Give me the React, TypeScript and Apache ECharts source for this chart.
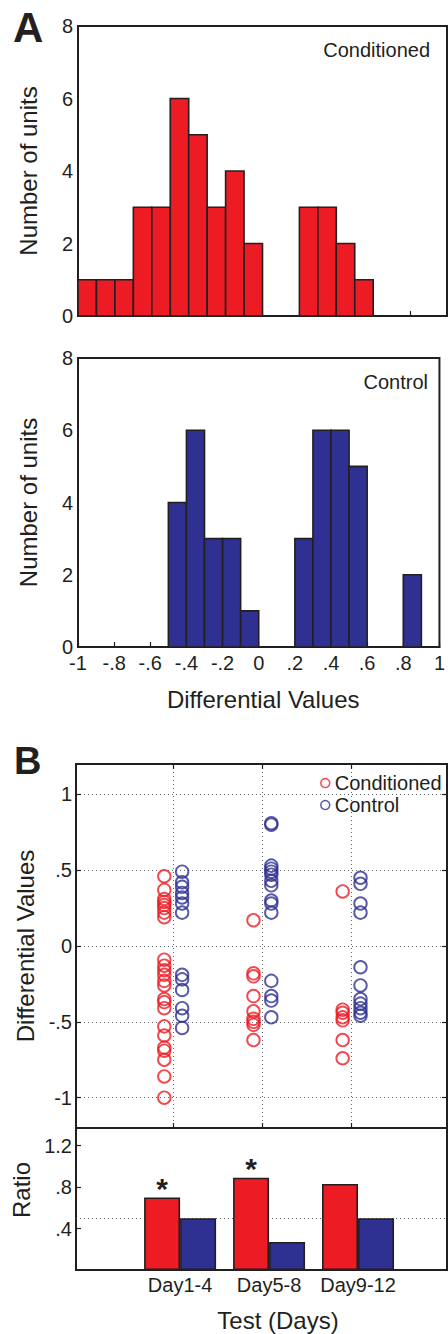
import React, { useEffect, useRef } from 'react';
import * as echarts from 'echarts';

// ---------- Panel A: histograms ----------
const binWidth = 0.1;
const binStarts = [-1, -0.9, -0.8, -0.7, -0.6, -0.5, -0.4, -0.3, -0.2, -0.1, 0, 0.1, 0.2, 0.3, 0.4, 0.5, 0.6, 0.7, 0.8, 0.9];
const conditionedCounts = [1, 1, 1, 3, 3, 6, 5, 3, 4, 2, 0, 0, 3, 3, 2, 1, 0, 0, 0, 0];
const controlCounts = [0, 0, 0, 0, 0, 4, 6, 3, 3, 1, 0, 0, 3, 6, 6, 5, 0, 0, 2, 0];

// ---------- Panel B: scatter by test day ----------
const dayLabels = ['Day1-4', 'Day5-8', 'Day9-12'];
const dayPositions = [1, 2, 3];
const conditionedByDay = [
  [0.46, 0.37, 0.31, 0.29, 0.27, 0.25, 0.22, 0.19,
    -0.09, -0.13, -0.16, -0.19, -0.23, -0.26, -0.35, -0.37, -0.41, -0.53, -0.59, -0.67, -0.69, -0.75, -0.86, -1.0],
  [0.17, -0.18, -0.2, -0.33, -0.43, -0.48, -0.5, -0.52, -0.62],
  [0.36, -0.42, -0.44, -0.47, -0.49, -0.62, -0.74],
];
const controlByDay = [
  [0.49, 0.42, 0.39, 0.35, 0.32, 0.28, 0.22, -0.19, -0.22, -0.29, -0.41, -0.46, -0.54],
  [0.81, 0.8, 0.53, 0.51, 0.49, 0.47, 0.43, 0.4, 0.3, 0.28, 0.22, -0.23, -0.33, -0.36, -0.47],
  [0.45, 0.41, 0.28, 0.22, -0.14, -0.26, -0.35, -0.38, -0.41, -0.44, -0.46],
];
const scatterYTicks = [-1, -0.5, 0, 0.5, 1];

// ---------- Panel B: ratio ----------
const conditionedRatio = [0.7, 0.89, 0.83];
const controlRatio = [0.5, 0.27, 0.5];
const significant = [true, true, false];
const ratioReference = 0.5;
const ratioYTicks = [0.4, 0.8, 1.2];

const RED = '#ED1C24';
const BLUE = '#2E3192';
const INK = '#231F20';
const FONT = 'Liberation Sans';
const DOT = '#666';

const fmt = (v: number) => {
  const r = Math.round(v * 100) / 100;
  if (Number.isInteger(r)) return String(r);
  return String(r).replace('0.', '.');
};

const histSeries = (counts: number[], color: string, idx: number) => ({
  type: 'custom',
  xAxisIndex: idx,
  yAxisIndex: idx,
  encode: { x: [0, 1], y: 2 },
  data: binStarts.map((s, i) => [s, s + binWidth, counts[i]]),
  renderItem: (params: any, api: any) => {
    const count = api.value(2);
    if (!count) return null;
    const p1 = api.coord([api.value(0), count]);
    const p2 = api.coord([api.value(1), 0]);
    return {
      type: 'rect',
      shape: { x: p1[0], y: p1[1], width: p2[0] - p1[0], height: p2[1] - p1[1] },
      style: { fill: color, stroke: INK, lineWidth: 1.6 },
    };
  },
});

export default function App() {
  const ref = useRef<HTMLDivElement>(null);
  useEffect(() => {
    document.body.style.margin = '0';
    const chart = echarts.init(ref.current!, null, { renderer: 'svg' });
    const axisText = { color: INK, fontFamily: FONT, fontSize: 20 };
    const nameText = { color: INK, fontFamily: FONT, fontSize: 24 };
    const axisLine = { show: true, onZero: false, lineStyle: { color: INK, width: 2 } };
    const noLine = { show: false, onZero: false };
    const dotted = { show: true, lineStyle: { color: DOT, width: 1, type: [1, 3] } };

    const option: any = {
      animation: false,
      backgroundColor: '#fff',
      textStyle: { fontFamily: FONT },
      grid: [
        { left: 78, top: 26, width: 369, height: 290 },
        { left: 78, top: 358, width: 369, height: 289 },
        { left: 76, top: 764, width: 371, height: 364 },
        { left: 76, top: 1128, width: 371, height: 142 },
      ].map((g) => ({ ...g, show: true, borderColor: INK, borderWidth: 2, backgroundColor: 'transparent' })),
      legend: {
        orient: 'vertical',
        left: 320,
        top: 773,
        padding: 0,
        itemWidth: 9,
        itemHeight: 9,
        itemGap: 2,
        textStyle: { color: INK, fontFamily: FONT, fontSize: 20, lineHeight: 20 },
        data: [
          { name: 'Conditioned', icon: 'circle', itemStyle: { color: 'rgba(0,0,0,0)', borderColor: RED, borderWidth: 1.5 } },
          { name: 'Control', icon: 'circle', itemStyle: { color: 'rgba(0,0,0,0)', borderColor: BLUE, borderWidth: 1.5 } },
        ],
      },
      xAxis: [
        {
          type: 'value', gridIndex: 0, min: -1, max: 1, interval: 0.2,
          axisLine, axisTick: { show: true, inside: true, length: 5, lineStyle: { color: INK, width: 1.2 } },
          axisLabel: { show: false }, splitLine: { show: false },
        },
        {
          type: 'value', gridIndex: 1, min: -1, max: 1, interval: 0.2,
          axisLine, axisTick: { show: true, inside: true, length: 5, lineStyle: { color: INK, width: 1.2 } },
          axisLabel: { ...axisText, margin: 6, formatter: fmt, showMaxLabel: true, showMinLabel: true },
          splitLine: { show: false },
          name: 'Differential Values', nameLocation: 'middle', nameGap: 40,
          nameTextStyle: { ...nameText, padding: [0, 0, 0, 9] },
        },
        {
          type: 'value', gridIndex: 2, min: -0.09, max: 4.07,
          axisLine,
          axisTick: { show: true, inside: true, length: 5, customValues: dayPositions, lineStyle: { color: INK, width: 1.2 } },
          axisLabel: { show: false, customValues: dayPositions },
          splitLine: dotted,
        },
        {
          type: 'value', gridIndex: 2, min: -0.09, max: 4.07, position: 'top',
          axisLine: noLine,
          axisTick: { show: true, inside: true, length: 5, customValues: dayPositions, lineStyle: { color: INK, width: 1.2 } },
          axisLabel: { show: false, customValues: dayPositions },
          splitLine: { show: false },
        },
        {
          type: 'value', gridIndex: 3, min: -0.17, max: 4.0,
          axisLine, axisTick: { show: false, customValues: dayPositions },
          axisLabel: { ...axisText, margin: 5, customValues: dayPositions, formatter: (v: number) => dayLabels[Math.round(v) - 1] ?? '' },
          splitLine: { show: false },
          name: 'Test (Days)', nameLocation: 'middle', nameGap: 38,
          nameTextStyle: { ...nameText, padding: [0, 0, 0, 33] },
        },
      ],
      yAxis: [
        {
          type: 'value', gridIndex: 0, min: 0, max: 8, interval: 2,
          axisLine, axisTick: { show: false },
          axisLabel: { ...axisText, margin: 5 }, splitLine: { show: false },
          name: 'Number of units', nameLocation: 'middle', nameGap: 38, nameRotate: 90, nameTextStyle: nameText,
        },
        {
          type: 'value', gridIndex: 1, min: 0, max: 8, interval: 2,
          axisLine, axisTick: { show: false },
          axisLabel: { ...axisText, margin: 5 }, splitLine: { show: false },
          name: 'Number of units', nameLocation: 'middle', nameGap: 38, nameRotate: 90, nameTextStyle: nameText,
        },
        {
          type: 'value', gridIndex: 2, min: -1.2, max: 1.2,
          axisLine,
          axisTick: { show: true, inside: true, length: 5, customValues: scatterYTicks, lineStyle: { color: INK, width: 1.2 } },
          axisLabel: { ...axisText, margin: 4, customValues: scatterYTicks, formatter: fmt },
          splitLine: dotted,
          name: 'Differential Values', nameLocation: 'middle', nameGap: 37, nameRotate: 90, nameTextStyle: nameText,
        },
        {
          type: 'value', gridIndex: 2, min: -1.2, max: 1.2, position: 'right',
          axisLine: noLine,
          axisTick: { show: true, inside: true, length: 5, customValues: scatterYTicks, lineStyle: { color: INK, width: 1.2 } },
          axisLabel: { show: false, customValues: scatterYTicks },
          splitLine: { show: false },
        },
        {
          type: 'value', gridIndex: 3, min: 0, max: 1.37,
          axisLine,
          axisTick: { show: true, inside: true, length: 5, customValues: ratioYTicks, lineStyle: { color: INK, width: 1.2 } },
          axisLabel: { ...axisText, margin: 4, customValues: ratioYTicks, formatter: fmt },
          splitLine: { show: false },
          name: 'Ratio', nameLocation: 'middle', nameGap: 37, nameRotate: 90,
          nameTextStyle: { ...nameText, padding: [0, 0, 0, 18] },
        },
      ],
      series: [
        histSeries(conditionedCounts, RED, 0),
        histSeries(controlCounts, BLUE, 1),
        {
          type: 'scatter', name: 'Conditioned', xAxisIndex: 2, yAxisIndex: 2,
          symbol: 'circle', symbolSize: 12.5,
          itemStyle: { color: 'rgba(0,0,0,0)', borderColor: RED, borderWidth: 1.9 },
          data: conditionedByDay.flatMap((vals, d) => vals.map((v) => [dayPositions[d] - 0.1, v])),
        },
        {
          type: 'scatter', name: 'Control', xAxisIndex: 2, yAxisIndex: 2,
          symbol: 'circle', symbolSize: 12.5,
          itemStyle: { color: 'rgba(0,0,0,0)', borderColor: BLUE, borderWidth: 1.9 },
          data: controlByDay.flatMap((vals, d) => vals.map((v) => [dayPositions[d] + 0.1, v])),
        },
        {
          type: 'bar', name: 'Conditioned ratio', xAxisIndex: 4, yAxisIndex: 4,
          barWidth: 36, barGap: '0%', z: 3,
          itemStyle: { color: RED, borderColor: INK, borderWidth: 1.6 },
          label: {
            show: true, position: 'top', distance: -6,
            fontSize: 30, fontWeight: 'bold', color: INK, fontFamily: FONT,
            formatter: (p: any) => (significant[p.dataIndex] ? '*' : ''),
          },
          data: conditionedRatio.map((v, i) => [dayPositions[i], v]),
          markLine: {
            silent: true, symbol: ['none', 'none'], z: 1,
            label: { show: false },
            lineStyle: { color: DOT, width: 1, type: [1, 3] },
            data: [{ yAxis: ratioReference }],
          },
        },
        {
          type: 'bar', name: 'Control ratio', xAxisIndex: 4, yAxisIndex: 4,
          barWidth: 36, barGap: '0%', z: 3,
          itemStyle: { color: BLUE, borderColor: INK, borderWidth: 1.6 },
          data: controlRatio.map((v, i) => [dayPositions[i], v]),
        },
      ],
      graphic: [
        { type: 'text', left: 13, top: 6, style: { text: 'A', fontSize: 42, fontWeight: 'bold', fill: INK, fontFamily: FONT } },
        { type: 'text', left: 14, top: 742, style: { text: 'B', fontSize: 38, fontWeight: 'bold', fill: INK, fontFamily: FONT } },
        { type: 'text', x: 430, y: 50, style: { text: 'Conditioned', fontSize: 20, fill: INK, fontFamily: FONT, align: 'right', verticalAlign: 'middle' } },
        { type: 'text', x: 428, y: 382, style: { text: 'Control', fontSize: 20, fill: INK, fontFamily: FONT, align: 'right', verticalAlign: 'middle' } },
      ],
    };
    chart.setOption(option);
    return () => chart.dispose();
  }, []);
  return <div ref={ref} style={{ width: 448, height: 1334 }} />;
}
